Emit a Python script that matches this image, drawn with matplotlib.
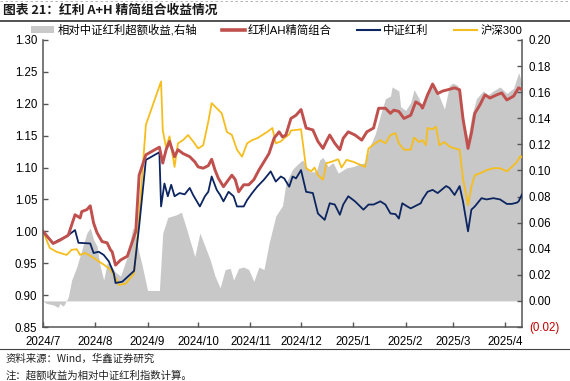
import matplotlib
matplotlib.use("Agg")
import matplotlib.pyplot as plt
import matplotlib.dates as mdates
import pandas as pd
from matplotlib.patches import Patch
from matplotlib.lines import Line2D

plt.rcParams['font.family'] = ['Liberation Sans', 'Noto Sans CJK SC']

# ---------------- data ----------------
red_dates = [
    "2024-07-01", "2024-07-07", "2024-07-11", "2024-07-16", "2024-07-20", "2024-07-23", "2024-07-24", "2024-07-27", "2024-07-29", "2024-07-31",
    "2024-08-02", "2024-08-05", "2024-08-08", "2024-08-10", "2024-08-11", "2024-08-13", "2024-08-16", "2024-08-20", "2024-08-23", "2024-08-25", "2024-08-27", "2024-08-31",
    "2024-09-04", "2024-09-08", "2024-09-10", "2024-09-12", "2024-09-14", "2024-09-17", "2024-09-19", "2024-09-22", "2024-09-26", "2024-09-29",
    "2024-10-01", "2024-10-04", "2024-10-07", "2024-10-09", "2024-10-11", "2024-10-13", "2024-10-16", "2024-10-19", "2024-10-21", "2024-10-23", "2024-10-25", "2024-10-28", "2024-10-31",
    "2024-11-03", "2024-11-06", "2024-11-09", "2024-11-12", "2024-11-15", "2024-11-18", "2024-11-20", "2024-11-22", "2024-11-25", "2024-11-28",
    "2024-12-01", "2024-12-04", "2024-12-08", "2024-12-11", "2024-12-14", "2024-12-16", "2024-12-18", "2024-12-21", "2024-12-24", "2024-12-26", "2024-12-29",
    "2025-01-02", "2025-01-06", "2025-01-09", "2025-01-13", "2025-01-16", "2025-01-20", "2025-01-23", "2025-01-25", "2025-01-28", "2025-01-31",
    "2025-02-04", "2025-02-07", "2025-02-10", "2025-02-11", "2025-02-14", "2025-02-17", "2025-02-20", "2025-02-23", "2025-02-26",
    "2025-03-02", "2025-03-05", "2025-03-07", "2025-03-10", "2025-03-12", "2025-03-14", "2025-03-17", "2025-03-20", "2025-03-23", "2025-03-27", "2025-03-30",
    "2025-04-02", "2025-04-06", "2025-04-09", "2025-04-11",
]
red_vals = [
    1.000, 0.981, 0.986, 0.994, 1.026, 1.021, 1.031, 1.034, 1.040, 1.013,
    0.998, 0.984, 0.982, 0.971, 0.968, 0.947, 0.955, 0.961, 0.984, 1.000, 1.088, 1.120,
    1.126, 1.132, 1.107, 1.128, 1.141, 1.117, 1.128, 1.122, 1.117, 1.109,
    1.101, 1.099, 1.103, 1.113, 1.096, 1.083, 1.070, 1.081, 1.088, 1.081, 1.062, 1.073, 1.073,
    1.081, 1.096, 1.109, 1.122, 1.146, 1.156, 1.148, 1.151, 1.177, 1.182,
    1.191, 1.162, 1.159, 1.141, 1.130, 1.141, 1.151, 1.138, 1.128, 1.146, 1.156,
    1.151, 1.143, 1.156, 1.162, 1.193, 1.193, 1.185, 1.190, 1.188, 1.177,
    1.182, 1.203, 1.198, 1.193, 1.214, 1.231, 1.216, 1.220, 1.222,
    1.225, 1.222, 1.177, 1.130, 1.154, 1.185, 1.198, 1.214, 1.209, 1.214, 1.217,
    1.206, 1.212, 1.225, 1.222,
]

blue_dates = [
    "2024-07-01", "2024-07-07", "2024-07-10", "2024-07-15", "2024-07-20", "2024-07-22", "2024-07-29", "2024-07-31",
    "2024-08-03", "2024-08-06", "2024-08-09", "2024-08-12", "2024-08-13", "2024-08-17", "2024-08-24", "2024-08-27", "2024-08-31",
    "2024-09-08", "2024-09-09", "2024-09-11", "2024-09-13", "2024-09-15", "2024-09-17", "2024-09-20", "2024-09-23", "2024-09-26", "2024-09-28",
    "2024-10-02", "2024-10-05", "2024-10-07", "2024-10-09", "2024-10-12", "2024-10-14", "2024-10-16", "2024-10-19", "2024-10-22", "2024-10-24", "2024-10-28", "2024-10-30",
    "2024-11-02", "2024-11-05", "2024-11-09", "2024-11-13", "2024-11-16", "2024-11-19", "2024-11-21", "2024-11-24", "2024-11-26", "2024-11-28",
    "2024-12-01", "2024-12-04", "2024-12-08", "2024-12-11", "2024-12-15", "2024-12-18", "2024-12-21", "2024-12-24", "2024-12-26", "2024-12-29",
    "2025-01-02", "2025-01-07", "2025-01-10", "2025-01-13", "2025-01-17", "2025-01-20", "2025-01-23", "2025-01-26", "2025-01-28", "2025-01-30",
    "2025-02-02", "2025-02-04", "2025-02-10", "2025-02-11", "2025-02-14", "2025-02-17", "2025-02-20", "2025-02-25", "2025-02-27",
    "2025-03-02", "2025-03-05", "2025-03-07", "2025-03-10", "2025-03-12", "2025-03-14", "2025-03-18", "2025-03-21", "2025-03-25", "2025-03-29",
    "2025-04-02", "2025-04-05", "2025-04-08", "2025-04-09", "2025-04-11",
]
blue_vals = [
    1.000, 0.981, 0.986, 0.992, 1.002, 0.982, 0.981, 0.966,
    0.968, 0.963, 0.953, 0.934, 0.919, 0.921, 0.938, 1.008, 1.112,
    1.124, 1.039, 1.075, 1.055, 1.073, 1.055, 1.060, 1.058, 1.068, 1.057,
    1.039, 1.055, 1.062, 1.086, 1.065, 1.057, 1.047, 1.062, 1.055, 1.039, 1.039, 1.049,
    1.060, 1.070, 1.081, 1.094, 1.078, 1.086, 1.083, 1.070, 1.086, 1.083,
    1.096, 1.062, 1.060, 1.028, 1.018, 1.044, 1.042, 1.026, 1.042, 1.055,
    1.047, 1.034, 1.042, 1.042, 1.047, 1.042, 1.028, 1.027, 1.020, 1.044,
    1.039, 1.036, 1.044, 1.050, 1.062, 1.065, 1.060, 1.071, 1.068,
    1.057, 1.071, 1.047, 1.000, 1.034, 1.039, 1.052, 1.050, 1.052, 1.050,
    1.043, 1.043, 1.045, 1.047, 1.058,
]

gold_dates = [
    "2024-07-01", "2024-07-05", "2024-07-09", "2024-07-15", "2024-07-18", "2024-07-21", "2024-07-23", "2024-07-26", "2024-07-30",
    "2024-08-03", "2024-08-07", "2024-08-10", "2024-08-13", "2024-08-15", "2024-08-19", "2024-08-24", "2024-08-27", "2024-08-31",
    "2024-09-09", "2024-09-10", "2024-09-12", "2024-09-14", "2024-09-17", "2024-09-19", "2024-09-22", "2024-09-25", "2024-09-28",
    "2024-10-01", "2024-10-04", "2024-10-07", "2024-10-09", "2024-10-12", "2024-10-15", "2024-10-18", "2024-10-21", "2024-10-24", "2024-10-27", "2024-10-30",
    "2024-11-02", "2024-11-05", "2024-11-08", "2024-11-11", "2024-11-14", "2024-11-16", "2024-11-19", "2024-11-21", "2024-11-24", "2024-11-25",
    "2024-12-01", "2024-12-04", "2024-12-07", "2024-12-09", "2024-12-11", "2024-12-14", "2024-12-16", "2024-12-19", "2024-12-23", "2024-12-25", "2024-12-28",
    "2025-01-01", "2025-01-08", "2025-01-10", "2025-01-14", "2025-01-17", "2025-01-20", "2025-01-23", "2025-01-26", "2025-01-28", "2025-01-31",
    "2025-02-04", "2025-02-06", "2025-02-09", "2025-02-11", "2025-02-13", "2025-02-14", "2025-02-17", "2025-02-19", "2025-02-21", "2025-02-24", "2025-02-27",
    "2025-03-02", "2025-03-05", "2025-03-07", "2025-03-10", "2025-03-12", "2025-03-14", "2025-03-18", "2025-03-21", "2025-03-25", "2025-03-29",
    "2025-04-02", "2025-04-05", "2025-04-08", "2025-04-10", "2025-04-11",
]
gold_vals = [
    1.000, 0.974, 0.968, 0.963, 0.971, 0.972, 0.963, 0.966, 0.960,
    0.953, 0.946, 0.940, 0.927, 0.916, 0.918, 0.934, 1.023, 1.167,
    1.235, 1.159, 1.131, 1.149, 1.101, 1.138, 1.143, 1.151, 1.141,
    1.130, 1.135, 1.172, 1.201, 1.193, 1.185, 1.156, 1.151, 1.128, 1.117, 1.138,
    1.143, 1.146, 1.151, 1.156, 1.162, 1.138, 1.141, 1.146, 1.152, 1.158,
    1.160, 1.099, 1.094, 1.100, 1.088, 1.081, 1.107, 1.109, 1.113, 1.100, 1.112,
    1.109, 1.101, 1.130, 1.138, 1.143, 1.138, 1.151, 1.154, 1.138, 1.128,
    1.128, 1.147, 1.140, 1.143, 1.135, 1.162, 1.160, 1.164, 1.135, 1.140, 1.133,
    1.130, 1.128, 1.083, 1.041, 1.070, 1.088, 1.092, 1.096, 1.099, 1.099,
    1.094, 1.101, 1.109, 1.118, 1.116,
]

excess_dates = [
    "2024-07-01", "2024-07-03", "2024-07-07", "2024-07-10", "2024-07-11", "2024-07-13", "2024-07-14", "2024-07-16", "2024-07-18", "2024-07-21", "2024-07-24", "2024-07-27", "2024-07-29", "2024-07-31",
    "2024-08-02", "2024-08-04", "2024-08-06", "2024-08-08", "2024-08-10", "2024-08-13", "2024-08-16", "2024-08-20", "2024-08-23", "2024-08-24", "2024-08-26", "2024-08-29",
    "2024-09-01", "2024-09-08", "2024-09-10", "2024-09-13", "2024-09-18", "2024-09-21", "2024-09-23", "2024-09-26", "2024-09-29",
    "2024-10-02", "2024-10-05", "2024-10-08", "2024-10-11", "2024-10-14", "2024-10-17", "2024-10-20", "2024-10-22", "2024-10-25", "2024-10-28", "2024-10-31",
    "2024-11-03", "2024-11-06", "2024-11-09", "2024-11-12", "2024-11-16", "2024-11-20", "2024-11-22", "2024-11-26", "2024-11-30",
    "2024-12-02", "2024-12-06", "2024-12-10", "2024-12-12", "2024-12-14", "2024-12-17", "2024-12-20", "2024-12-23", "2024-12-28",
    "2025-01-01", "2025-01-05", "2025-01-08", "2025-01-11", "2025-01-14", "2025-01-17", "2025-01-20", "2025-01-23", "2025-01-24", "2025-01-28", "2025-01-29",
    "2025-02-01", "2025-02-04", "2025-02-06", "2025-02-09", "2025-02-11", "2025-02-14", "2025-02-17", "2025-02-20", "2025-02-24", "2025-02-27",
    "2025-03-01", "2025-03-04", "2025-03-07", "2025-03-10", "2025-03-12", "2025-03-15", "2025-03-19", "2025-03-22", "2025-03-25", "2025-03-29",
    "2025-04-02", "2025-04-06", "2025-04-09", "2025-04-11",
]
excess_vals = [
    0.000, -0.002, -0.003, -0.005, -0.002, -0.004, -0.002, 0.003, 0.016, 0.026, 0.039, 0.052, 0.056, 0.047,
    0.042, 0.026, 0.016, 0.029, 0.028, 0.022, 0.019, 0.034, 0.055, 0.056, 0.042, 0.026,
    0.008, 0.008, 0.052, 0.064, 0.066, 0.068, 0.060, 0.047, 0.034,
    0.052, 0.042, 0.032, 0.019, 0.010, 0.024, 0.025, 0.016, 0.025, 0.026, 0.024,
    0.015, 0.026, 0.024, 0.044, 0.065, 0.073, 0.090, 0.101, 0.106,
    0.108, 0.099, 0.099, 0.108, 0.110, 0.103, 0.106, 0.098, 0.102,
    0.103, 0.105, 0.106, 0.119, 0.128, 0.142, 0.155, 0.157, 0.164, 0.161, 0.149,
    0.146, 0.152, 0.162, 0.155, 0.146, 0.161, 0.167, 0.160, 0.147, 0.165,
    0.167, 0.165, 0.138, 0.125, 0.141, 0.155, 0.161, 0.158, 0.161, 0.164,
    0.159, 0.163, 0.175, 0.167,
]

month_ticks = ["2024-07-01", "2024-08-01", "2024-09-01", "2024-10-01", "2024-11-01", "2024-12-01",
               "2025-01-01", "2025-02-01", "2025-03-01", "2025-04-01"]
month_labels = ["2024/7", "2024/8", "2024/9", "2024/10", "2024/11", "2024/12",
                "2025/1", "2025/2", "2025/3", "2025/4"]
left_ticks = [0.85, 0.90, 0.95, 1.00, 1.05, 1.10, 1.15, 1.20, 1.25, 1.30]
right_ticks = [-0.02, 0.00, 0.02, 0.04, 0.06, 0.08, 0.10, 0.12, 0.14, 0.16, 0.18, 0.20]

series_names = ["相对中证红利超额收益,右轴", "红利AH精简组合", "中证红利", "沪深300"]

# ---------------- styles ----------------
C_GRAY = "#C8C8C8"
C_RED = "#C0504D"
C_BLUE = "#0C2560"
C_GOLD = "#F5BE1E"
C_AXIS = "#555555"

W, H = 570, 381
fig = plt.figure(figsize=(W / 100, H / 100), dpi=100)

ax = fig.add_axes([43 / W, 1 - 327 / H, (522 - 43) / W, (327 - 40) / H])
ax2 = ax.twinx()
ax.set_zorder(ax2.get_zorder() + 1)
ax.patch.set_visible(False)

ed = pd.to_datetime(excess_dates)
ax2.fill_between(ed, 0, excess_vals, color=C_GRAY, linewidth=0)

ax.plot(pd.to_datetime(gold_dates), gold_vals, color=C_GOLD, lw=1.3, solid_joinstyle='round')
ax.plot(pd.to_datetime(blue_dates), blue_vals, color=C_BLUE, lw=1.3, solid_joinstyle='round')
ax.plot(pd.to_datetime(red_dates), red_vals, color=C_RED, lw=2.1, solid_joinstyle='round')

ax.set_xlim(pd.Timestamp("2024-07-01"), pd.Timestamp("2025-04-11"))
ax.set_ylim(0.85, 1.30)
ax2.set_ylim(-0.02, 0.20)

ax.set_xticks(pd.to_datetime(month_ticks))
ax.set_xticklabels(month_labels)
ax.set_yticks(left_ticks)
ax.set_yticklabels([f"{v:.2f}" for v in left_ticks])
ax2.set_yticks(right_ticks)
ax2.set_yticklabels([f"({abs(v):.2f})" if v < 0 else f"{v:.2f}" for v in right_ticks])

for a in (ax, ax2):
    a.spines["top"].set_visible(False)
    for s in ("left", "right", "bottom"):
        a.spines[s].set_color(C_AXIS)
        a.spines[s].set_linewidth(1.1)
    a.tick_params(direction='in', length=3.5, width=1.0, color=C_AXIS, labelsize=8.3,
                  labelcolor='black')
ax.tick_params(axis='x', pad=6.5)
ax.tick_params(axis='y', pad=4)
ax2.tick_params(axis='y', pad=5)
ax2.spines['left'].set_visible(False)
ax2.spines['bottom'].set_visible(False)
ax.spines['right'].set_visible(False)
for lab, v in zip(ax2.get_yticklabels(), right_ticks):
    if v < 0:
        lab.set_color("#C00000")

handles = [
    Patch(facecolor=C_GRAY, edgecolor='none'),
    Line2D([0], [0], color=C_RED, lw=2.6),
    Line2D([0], [0], color=C_BLUE, lw=1.5),
    Line2D([0], [0], color=C_GOLD, lw=1.5),
]
fig.legend(handles, series_names, loc='center left', bbox_to_anchor=(31 / W, 1 - 30 / H),
           ncol=4, frameon=False, fontsize=8.2, handlelength=2.0, handleheight=0.6,
           handletextpad=0.3, columnspacing=2.2, borderpad=0, borderaxespad=0)

# title and notes
fig.text(3 / W, 1 - 10 / H, "图表 21：红利 A+H 精简组合收益情况", fontsize=9.2, fontweight='bold',
         family=['Noto Sans CJK SC'], va='center', ha='left', color='#1a1a1a')
fig.add_artist(Line2D([0, 1], [1 - 20.5 / H, 1 - 20.5 / H], color='#333333', lw=1.2))
fig.add_artist(Line2D([0, 1], [1 - 0.5 / H, 1 - 0.5 / H], color='#AAAAAA', lw=0.6, ls=(0, (3, 3))))
fig.add_artist(Line2D([0, 1], [1 - 349 / H, 1 - 349 / H], color='#444444', lw=0.8))
fig.text(6 / W, 1 - 359 / H, "资料来源：Wind，华鑫证券研究", fontsize=7.5, va='center', ha='left',
         family=['Noto Sans CJK SC'], color='#222222')
fig.text(6 / W, 1 - 375 / H, "注：超额收益为相对中证红利指数计算。", fontsize=7.5, va='center', ha='left',
         family=['Noto Sans CJK SC'], color='#222222')

fig.savefig("out.png", dpi=100)
